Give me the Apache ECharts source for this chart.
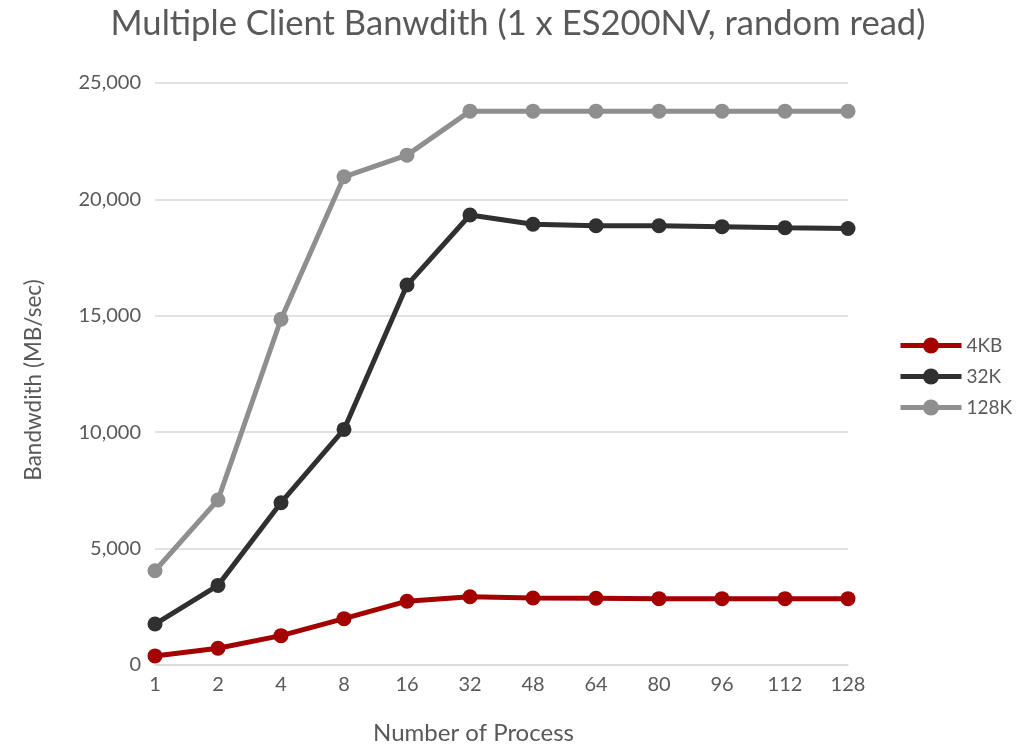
<!DOCTYPE html>
<html>
<head>
<meta charset="utf-8">
<script src="https://cdn.jsdelivr.net/npm/echarts@6/dist/echarts.min.js"></script>
<style>
  html, body { margin: 0; padding: 0; background: #fff; }
  #chart { width: 1036px; height: 744px; }
</style>
</head>
<body>
<div id="chart"></div>
<script>
// Process counts on the x axis
const processes = ['1', '2', '4', '8', '16', '32', '48', '64', '80', '96', '112', '128'];

// Bandwidth in MB/sec for each block size
const bw4KB  = [390, 720, 1260, 1990, 2740, 2930, 2880, 2870, 2850, 2850, 2850, 2850];
const bw32K  = [1760, 3420, 6970, 10120, 16320, 19330, 18930, 18870, 18870, 18830, 18780, 18750];
const bw128K = [4050, 7090, 14850, 20970, 21900, 23790, 23790, 23790, 23790, 23790, 23790, 23790];

const seriesNames = ['4KB', '32K', '128K'];
const seriesColors = ['#a50000', '#303030', '#8f8f8f'];

const FONT = 'Lato, "Liberation Sans", sans-serif';
const TEXT = '#595959';

const chart = echarts.init(document.getElementById('chart'), null, { renderer: 'canvas' });

function lineSeries(name, data, color) {
  return {
    name: name,
    type: 'line',
    data: data,
    symbol: 'circle',
    symbolSize: 15,
    lineStyle: { width: 5, color: color },
    itemStyle: { color: color },
    emphasis: { disabled: true },
    animation: false
  };
}

chart.setOption({
  backgroundColor: '#ffffff',
  title: {
    text: 'Multiple Client Banwdith (1 x ES200NV, random read)',
    left: 'center',
    top: 1,
    padding: [5, 37, 5, 5],
    textStyle: { fontFamily: FONT, fontSize: 34.6, fontWeight: 'normal', color: TEXT }
  },
  legend: {
    orient: 'vertical',
    left: 893,
    top: 331,
    itemWidth: 61,
    itemHeight: 20,
    itemGap: 12,
    textStyle: { fontFamily: FONT, fontSize: 19, color: TEXT },
    data: seriesNames.map((n, i) => ({
      name: n,
      itemStyle: { color: seriesColors[i] },
      lineStyle: { width: 5, color: seriesColors[i] }
    }))
  },
  grid: { left: 155, right: 188, top: 83, bottom: 79, containLabel: false, outerBoundsMode: 'none' },
  xAxis: {
    type: 'category',
    data: processes,
    boundaryGap: false,
    name: 'Number of Process',
    nameLocation: 'middle',
    nameGap: 56,
    nameTextStyle: { fontFamily: FONT, fontSize: 24, color: TEXT, padding: [0, 56, 0, 0] },
    axisLine: { show: true, lineStyle: { color: '#d9d9d9', width: 1.5 } },
    axisTick: { show: false },
    axisLabel: { fontFamily: FONT, fontSize: 20, color: TEXT, margin: 10 },
    splitLine: { show: false }
  },
  yAxis: {
    type: 'value',
    min: 0,
    max: 25000,
    interval: 5000,
    name: 'Bandwdith (MB/sec)',
    nameLocation: 'middle',
    nameGap: 110,
    nameTextStyle: { fontFamily: FONT, fontSize: 22.5, color: TEXT, padding: [0, 12, 0, 0] },
    axisLine: { show: false },
    axisTick: { show: false },
    axisLabel: {
      fontFamily: FONT, fontSize: 20, color: TEXT, margin: 14,
      formatter: v => v.toLocaleString('en-US')
    },
    splitLine: { lineStyle: { color: '#d9d9d9', width: 1.5 } }
  },
  series: [
    lineSeries(seriesNames[0], bw4KB, seriesColors[0]),
    lineSeries(seriesNames[1], bw32K, seriesColors[1]),
    lineSeries(seriesNames[2], bw128K, seriesColors[2])
  ]
});
</script>
</body>
</html>
